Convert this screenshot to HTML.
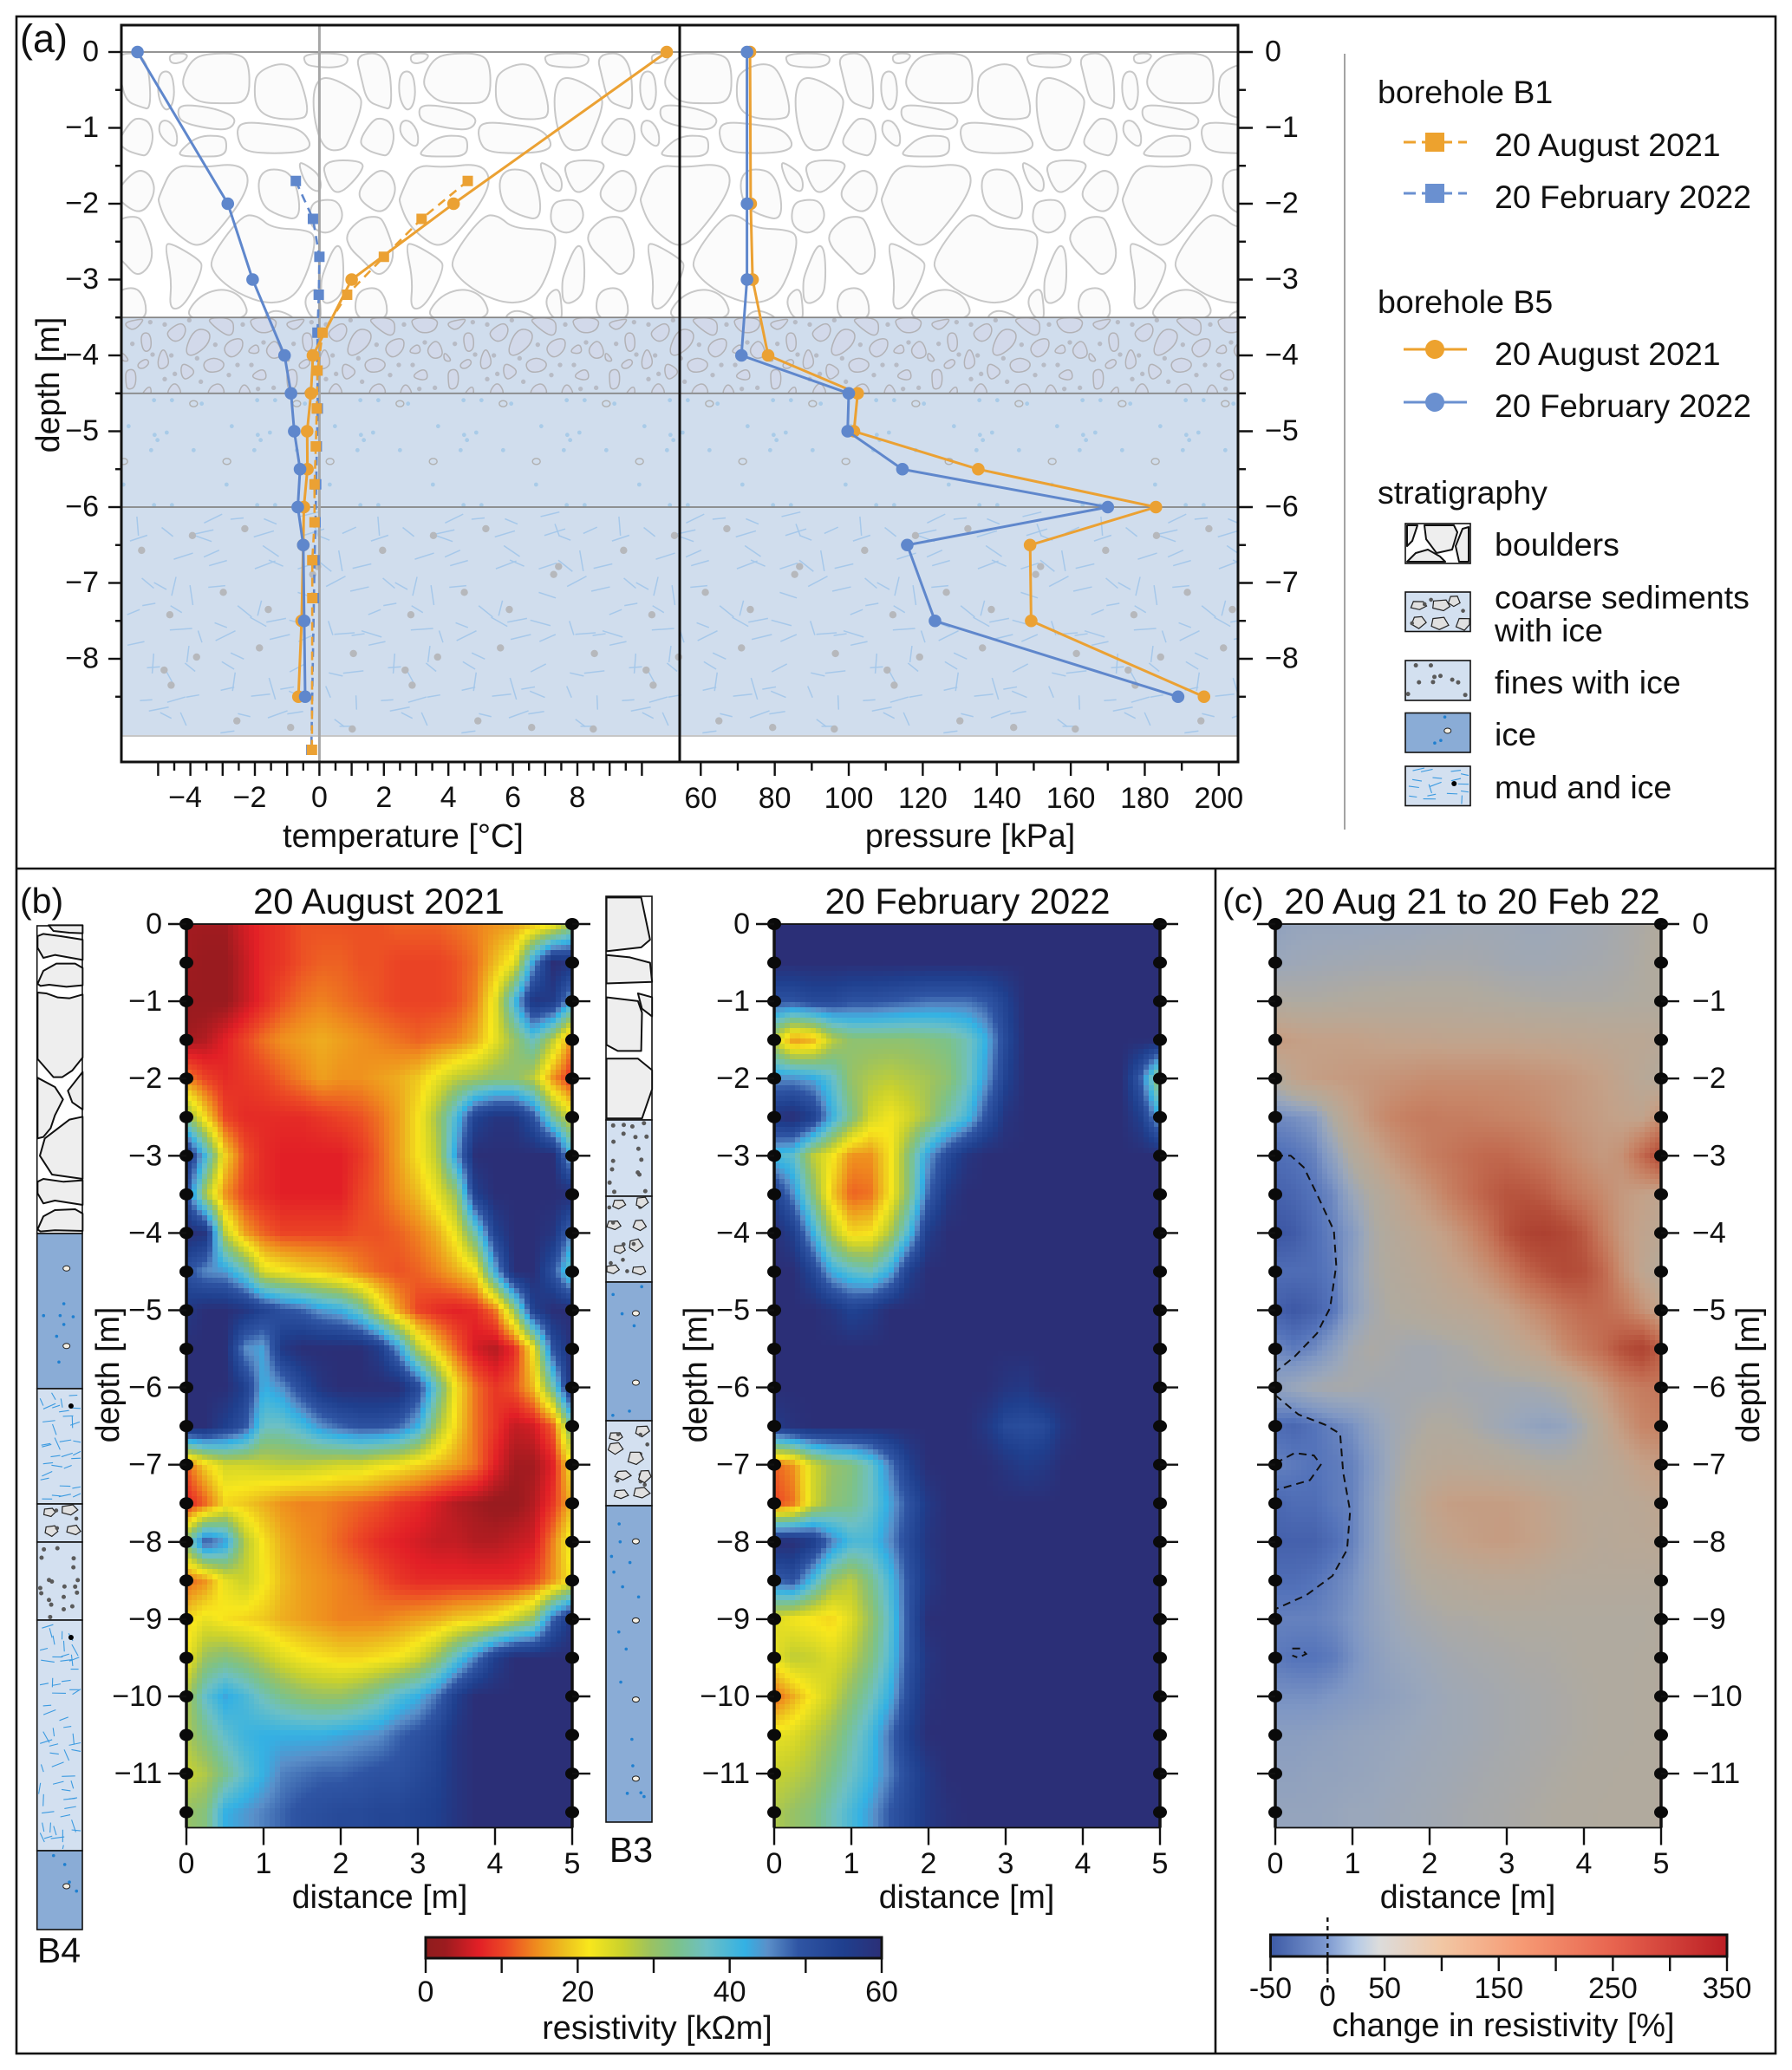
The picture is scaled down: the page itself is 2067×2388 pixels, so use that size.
<!DOCTYPE html>
<html lang="en">
<head>
<meta charset="utf-8">
<title>Borehole temperature, pressure and resistivity</title>
<style>
html,body{margin:0;padding:0;background:#fff;}
svg{display:block;}
text{font-family:"Liberation Sans",Arial,sans-serif;fill:#111;}
.b path{fill:#fbfbfb;stroke:#c8c8c8;stroke-width:2;stroke-linejoin:round;vector-effect:non-scaling-stroke;}
.c path{fill:#d2d9ea;stroke:#b2b2b6;stroke-width:1.5;stroke-linejoin:round;vector-effect:non-scaling-stroke;}
.k polygon{fill:#eeeeee;stroke:#111;stroke-width:2;stroke-linejoin:round;vector-effect:non-scaling-stroke;}
</style>
</head>
<body>
<svg id="fig" xmlns="http://www.w3.org/2000/svg" width="2067" height="2388" viewBox="0 0 2067 2388">
<defs>
<clipPath id="clip-boulder"><rect x="141" y="60" width="1286" height="306"/></clipPath>
<clipPath id="clip-coarse"><rect x="141" y="366" width="1286" height="88"/></clipPath>
<clipPath id="clip-lower"><rect x="141" y="454" width="1286" height="395"/></clipPath>
<g id="boulder-tile" class="b" transform="translate(140,60) scale(.3333)"></g>
<g id="coarse-tile" class="c" transform="translate(140,360) scale(.3333)">
<circle cx="100" cy="35" r="8" fill="#b7bbc5"/><circle cx="150" cy="43" r="8" fill="#b7bbc5"/>
<circle cx="235" cy="28" r="8" fill="#b7bbc5"/><circle cx="420" cy="43" r="8" fill="#b7bbc5"/>
<circle cx="38" cy="110" r="8" fill="#b7bbc5"/><circle cx="325" cy="113" r="8" fill="#b7bbc5"/>
<circle cx="108" cy="147" r="8" fill="#b7bbc5"/><circle cx="173" cy="150" r="8" fill="#b7bbc5"/>
<circle cx="262" cy="160" r="8" fill="#b7bbc5"/><circle cx="402" cy="183" r="8" fill="#b7bbc5"/>
<circle cx="450" cy="183" r="8" fill="#b7bbc5"/><circle cx="185" cy="214" r="8" fill="#b7bbc5"/>
<circle cx="372" cy="218" r="8" fill="#b7bbc5"/><circle cx="150" cy="232" r="8" fill="#b7bbc5"/>
<circle cx="275" cy="241" r="8" fill="#b7bbc5"/><circle cx="473" cy="266" r="8" fill="#b7bbc5"/>
<circle cx="527" cy="262" r="8" fill="#b7bbc5"/><circle cx="492" cy="105" r="8" fill="#b7bbc5"/>
</g>
</defs>

<rect x="0" y="0" width="2067" height="2388" fill="#fff"/>

<g id="strat">
<rect x="141" y="60" width="1286" height="306" fill="#fff"/>
<g clip-path="url(#clip-boulder)">
<use href="#boulder-tile"/><use href="#boulder-tile" x="278"/><use href="#boulder-tile" x="556"/><use href="#boulder-tile" x="834"/><use href="#boulder-tile" x="1112"/>
</g>
<rect x="141" y="366" width="1286" height="483" fill="#d0dded"/>
<g clip-path="url(#clip-coarse)">
<use href="#coarse-tile"/><use href="#coarse-tile" x="186"/><use href="#coarse-tile" x="372"/><use href="#coarse-tile" x="558"/><use href="#coarse-tile" x="744"/><use href="#coarse-tile" x="930"/><use href="#coarse-tile" x="1116"/>
</g>
<g clip-path="url(#clip-lower)" id="lower-texture"></g>
</g>

<g id="frames" fill="none" stroke="#111">
<rect x="19" y="19" width="2029" height="2350" stroke-width="2.6"/>
<line x1="19" y1="1002" x2="2048" y2="1002" stroke-width="2.6"/>
<line x1="1402" y1="1002" x2="1402" y2="2369" stroke-width="2.6"/>
</g>

<g id="a-lines"></g>
<g id="a-series"></g>
<g id="a-axes"></g>

<text x="23" y="60" font-size="45">(a)</text>
<text x="23" y="1053" font-size="41">(b)</text>
<text x="1410" y="1053" font-size="41">(c)</text>

<g id="legend">
<line x1="1551" y1="62" x2="1551" y2="957" stroke="#8c8c8c" stroke-width="1.6"/>
<text x="1589" y="119" font-size="37.5">borehole B1</text>
<text x="1724" y="180" font-size="37.5">20 August 2021</text>
<text x="1724" y="240" font-size="37.5">20 February 2022</text>
<text x="1589" y="361" font-size="37.5">borehole B5</text>
<text x="1724" y="421" font-size="37.5">20 August 2021</text>
<text x="1724" y="481" font-size="37.5">20 February 2022</text>
<text x="1589" y="581" font-size="37.5">stratigraphy</text>
<text x="1724" y="641" font-size="37.5">boulders</text>
<text x="1724" y="702" font-size="37.5">coarse sediments</text>
<text x="1724" y="740" font-size="37.5">with ice</text>
<text x="1724" y="800" font-size="37.5">fines with ice</text>
<text x="1724" y="860" font-size="37.5">ice</text>
<text x="1724" y="921" font-size="37.5">mud and ice</text>
<g fill="none">
<line x1="1619" y1="164" x2="1692" y2="164" stroke="#eda22e" stroke-width="3" stroke-dasharray="14 7"/>
<rect x="1644" y="153" width="22" height="22" fill="#eda22e"/>
<line x1="1619" y1="223" x2="1692" y2="223" stroke="#6a90d0" stroke-width="3" stroke-dasharray="14 7"/>
<rect x="1644" y="212" width="22" height="22" fill="#6a90d0"/>
<line x1="1619" y1="403" x2="1692" y2="403" stroke="#eda22e" stroke-width="3"/>
<circle cx="1655" cy="403" r="11" fill="#eda22e"/>
<line x1="1619" y1="464" x2="1692" y2="464" stroke="#6a90d0" stroke-width="3"/>
<circle cx="1655" cy="464" r="11" fill="#6a90d0"/>
</g>
<g id="legend-swatches"></g>
</g>

<g id="heat-aug"></g>
<g id="heat-feb"></g>
<g id="heat-chg"></g>
<g id="contours" fill="none" stroke="#111" stroke-width="2" stroke-dasharray="9 6"></g>
<g id="b-axes"></g>

<text x="437" y="1054" font-size="41.7" text-anchor="middle">20 August 2021</text>
<text x="1116" y="1054" font-size="41.7" text-anchor="middle">20 February 2022</text>
<text x="1698" y="1054" font-size="41.7" text-anchor="middle">20 Aug 21 to 20 Feb 22</text>

<g id="logs"></g>
<text x="68" y="2264" font-size="41" text-anchor="middle">B4</text>
<text x="728" y="2148" font-size="41" text-anchor="middle">B3</text>

<defs id="cb-defs"></defs>
<g id="cbars"></g>
</svg>

<script>
// ---------- panel (a) data ----------
const b5Depth = [0,-2,-3,-4,-4.5,-5,-5.5,-6,-6.5,-7.5,-8.5];
const b5TempAug = [10.77,4.16,1.0,-0.2,-0.26,-0.38,-0.37,-0.48,-0.5,-0.55,-0.65];
const b5TempFeb = [-5.64,-2.84,-2.07,-1.08,-0.88,-0.78,-0.6,-0.67,-0.5,-0.47,-0.44];
const b5PressAug = [73.3,73.5,74,78.2,102.4,101.4,135,183,149,149.3,196];
const b5PressFeb = [72.5,72.5,72.5,71,100,99.7,114.5,170,115.8,123.3,189];
const b1Depth = [-1.7,-2.2,-2.7,-3.2,-3.7,-4.2,-4.7,-5.2,-5.7,-6.2,-6.7,-7.2,-9.2];
const b1TempAug = [4.6,3.17,2.0,0.86,0.1,-0.06,-0.08,-0.11,-0.15,-0.15,-0.22,-0.22,-0.23];
const b1TempFeb = [-0.73,-0.2,0,-0.02,-0.06,-0.06,-0.05,-0.08,-0.1,-0.12,-0.15,-0.17,-0.25];
const depthTicksA = [0,-1,-2,-3,-4,-5,-6,-7,-8];
const depthLabelsA = ["0","−1","−2","−3","−4","−5","−6","−7","−8"];
const tempTicks = [-4,-2,0,2,4,6,8];
const tempLabels = ["−4","−2","0","2","4","6","8"];
const pressTicks = [60,80,100,120,140,160,180,200];
const layerBounds = [0,-3.5,-4.5,-6];

// ---------- panels (b),(c) data: rows depth 0..-11.5 step 0.5, columns 0..5 m step 0.25 ----------
const depthTicksB = [0,-1,-2,-3,-4,-5,-6,-7,-8,-9,-10,-11];
const depthLabelsB = ["0","−1","−2","−3","−4","−5","−6","−7","−8","−9","−10","−11"];
const distTicks = [0,1,2,3,4,5];
const resAug = [
[3,3,3,6,8,9,11,11,11,11,11,12,12,12,13,14,15,16,18,21,30],
[3,2,2,5,8,9,11,12,12,11,11,10,10,10,11,13,18,23,44,60,58],
[2,2,2,5,8,11,13,14,13,12,11,10,10,10,11,14,23,40,58,56,42],
[3,4,7,10,13,15,16,17,16,15,14,13,12,13,14,17,23,30,37,27,14],
[14,10,8,9,10,12,14,16,15,15,16,17,19,23,27,29,31,31,27,15,8],
[32,20,10,8,8,8,8,9,10,11,13,16,21,29,40,54,58,58,50,34,24],
[58,40,20,11,8,7,7,7,7,9,12,16,21,27,44,60,60,60,60,60,40],
[50,28,15,10,8,7,7,7,7,10,12,15,18,23,30,55,60,60,60,60,60],
[60,58,27,16,12,10,10,10,10,11,11,12,14,17,23,36,54,60,60,58,45],
[50,45,44,37,24,22,20,19,17,14,12,11,12,14,17,21,42,60,60,50,35],
[57,60,60,58,54,50,48,44,42,36,25,16,10,8,7,8,13,30,55,60,60],
[60,60,60,45,43,57,60,60,60,60,56,44,28,19,12,6,4,8,22,50,60],
[60,60,60,55,42,45,52,58,60,60,60,60,52,36,21,13,9,11,18,35,60],
[60,60,55,50,37,37,40,45,48,50,50,48,42,29,20,13,9,5,6,12,35],
[12,20,25,25,26,27,27,26,25,25,23,22,20,18,16,13,7,3,3,7,22],
[7,12,20,19,17,15,14,14,13,12,11,9,8,6,4,3,2,2,4,9,18],
[33,50,44,28,21,17,15,14,12,10,8,7,6,5,5,4,4,5,6,14,24],
[12,15,23,26,22,18,16,15,14,13,11,9,8,8,8,8,8,8,10,15,22],
[20,23,21,20,19,17,16,15,14,14,14,15,16,17,19,20,22,26,31,48,58],
[22,30,32,30,27,24,22,21,20,20,21,22,25,30,38,46,55,60,60,60,60],
[28,38,43,40,36,33,31,30,30,32,35,39,42,47,55,60,60,60,60,60,60],
[28,33,38,41,42,42,42,42,43,44,45,48,50,53,58,60,60,60,60,60,60],
[26,28,33,38,42,46,47,48,48,49,50,50,52,54,58,60,60,60,60,60,60],
[30,32,42,44,46,48,50,51,52,52,53,53,54,55,58,60,60,60,60,60,60]
];
const resFeb = [
[60,60,60,60,60,60,60,60,60,60,60,60,60,60,60,60,60,60,60,60,60],
[60,60,60,60,60,60,60,60,60,60,60,60,60,60,60,60,60,60,60,60,60],
[50,50,52,52,50,50,49,48,47,47,47,49,54,60,60,60,60,60,60,60,60],
[26,15,17,27,31,31,31,31,32,33,36,42,52,60,60,60,60,60,60,60,60],
[45,45,43,38,30,28,27,28,29,31,36,44,54,60,60,60,60,60,60,48,28],
[58,60,55,42,33,25,22,25,29,35,40,50,58,60,60,60,60,60,60,55,42],
[40,38,27,22,15,15,21,32,44,52,58,60,60,60,60,60,60,60,60,60,60],
[55,45,32,19,12,13,21,32,48,57,60,60,60,60,60,60,60,60,60,60,60],
[60,55,42,28,20,21,28,40,56,60,60,60,60,60,60,60,60,60,60,60,60],
[60,60,53,42,38,36,42,55,60,60,60,60,60,60,60,60,60,60,60,60,60],
[60,60,60,58,54,56,60,60,60,60,60,60,60,60,60,60,60,60,60,60,60],
[60,60,60,60,60,60,60,60,60,60,60,60,60,60,60,60,60,60,60,60,60],
[60,60,60,60,60,60,60,60,60,60,60,60,58,57,60,60,60,60,60,60,60],
[56,59,60,60,60,60,60,60,60,60,60,57,52,51,52,58,60,60,60,60,60],
[12,15,25,30,32,37,46,55,60,60,60,60,58,56,57,60,60,60,60,60,60],
[10,13,25,31,33,37,43,50,57,60,60,60,60,60,60,60,60,60,60,60,60],
[60,60,56,46,40,40,45,52,58,60,60,60,60,60,60,60,60,60,60,60,60],
[48,50,40,30,27,33,40,50,57,60,60,60,60,60,60,60,60,60,60,60,60],
[24,22,21,20,24,30,38,50,60,60,60,60,60,60,60,60,60,60,60,60,60],
[23,27,26,24,27,32,39,50,58,60,60,60,60,60,60,60,60,60,60,60,60],
[12,17,22,26,31,36,42,52,59,60,60,60,60,60,60,60,60,60,60,60,60],
[23,24,27,30,35,40,47,55,60,60,60,60,60,60,60,60,60,60,60,60,60],
[26,27,29,33,37,41,46,52,57,60,60,60,60,60,60,60,60,60,60,60,60],
[28,30,32,36,40,44,49,53,57,59,60,60,60,60,60,60,60,60,60,60,60]
];
const chgPct = [
[15,20,22,22,22,23,25,25,27,28,30,30,30,28,28,30,32,35,40,45,55],
[25,28,30,32,33,35,35,36,38,38,38,36,33,32,32,34,36,38,42,48,55],
[50,48,48,50,52,54,55,56,56,56,55,52,50,48,46,46,46,46,48,50,52],
[115,105,100,100,100,95,92,90,90,88,88,88,88,85,85,82,80,78,75,75,70],
[55,90,105,110,115,120,125,130,135,135,135,135,135,130,125,120,110,100,85,70,55],
[-10,-5,5,50,90,125,150,165,170,165,165,160,155,150,140,125,115,105,95,90,130],
[-30,-25,-15,15,55,85,115,140,165,180,195,205,205,190,175,150,130,115,130,200,270],
[-40,-35,-25,-10,25,50,75,100,125,160,190,220,240,240,225,190,165,140,115,100,85],
[-50,-45,-30,-15,5,40,60,75,90,110,140,180,240,280,290,270,230,165,115,90,75],
[-30,-30,-30,-20,10,40,55,65,75,90,105,130,165,210,240,260,250,205,130,85,60],
[-40,-48,-40,-25,10,35,50,55,62,70,75,85,100,125,150,180,200,200,175,130,90],
[-10,-20,-10,10,35,45,40,35,35,40,45,55,70,85,100,140,170,200,250,280,220],
[15,25,35,40,40,35,35,35,35,38,35,35,35,35,40,50,75,110,150,170,180],
[-30,-35,-25,-15,-5,15,30,40,50,50,45,35,28,20,15,20,40,75,115,150,160],
[-15,-20,-25,-20,-15,5,30,50,65,70,68,65,60,55,50,50,55,65,80,100,110],
[-35,-30,-30,-20,-15,10,35,60,90,105,108,108,108,100,90,80,70,70,70,75,85],
[-40,-40,-40,-30,-15,10,35,55,80,92,102,108,110,102,92,80,72,65,70,70,75],
[-30,-30,-25,-15,-5,15,30,45,55,60,65,70,70,70,65,60,60,60,60,60,60],
[-15,-15,-15,-10,0,15,25,35,40,45,45,48,50,50,50,50,50,50,50,50,55],
[-20,-25,-25,-20,-5,10,20,25,30,35,38,40,42,45,45,48,50,50,50,52,55],
[-5,-5,-5,0,5,10,15,20,25,30,32,35,38,40,42,45,48,50,50,52,55],
[10,10,12,15,18,20,22,25,28,30,32,35,38,40,42,45,48,50,50,52,55],
[15,15,18,18,20,22,25,28,30,32,35,38,40,42,45,48,50,50,52,52,55],
[20,20,20,22,25,25,28,30,32,35,38,40,42,45,48,50,50,52,52,52,55]
];
const contourA = [[0,-3],[.2,-3],[.37,-3.15],[.54,-3.5],[.76,-3.97],[.79,-4.42],[.71,-4.97],[.54,-5.3],[.25,-5.6],[0,-5.8]];
const contourB = [[0,-6.1],[.3,-6.35],[.64,-6.48],[.84,-6.6],[.88,-7.1],[.97,-7.6],[.93,-8.1],[.74,-8.44],[.4,-8.69],[0,-8.87]];
const contourC = [[0,-6.98],[.25,-6.85],[.5,-6.88],[.59,-7],[.45,-7.2],[0,-7.33]];
const contourD = [[.22,-9.38],[.33,-9.38],[.4,-9.45],[.3,-9.5],[.22,-9.47]];
const cbResTicks = [0,10,20,30,40,50,60];
const cbResLabels = ["0","","20","","40","","60"];
const cbChgTicks = [-50,0,50,100,150,200,250,300,350];
const cbChgLabels = ["-50","","50","","150","","250","","350"];
const resStopV = [0,2.6,7,10.6,14.6,18.5,21.5,26,29.7,33,37,42,45,49,55,60];
const resStopC = ["#8f1d1d","#9c1b1f","#e21f26","#ec4a25","#ef8c1e","#edc21f","#f8e71c","#c9d12d","#9ac262","#7cc28a","#6cc0c5","#33b1e4","#5a8fc9","#2f55a4","#1f3f8e","#2b2f77"];
const chgBarV = [-50,0,25,45,100,170,250,350];
const chgBarC = ["#3d5aa6","#7f9bd1","#b6cbe6","#dcdcdc","#f2c7a4","#f69a74","#e8644f","#bb1e24"];
const chgMapV = [-50,-25,0,25,50,75,100,150,200,250,300,350];
const chgMapC = ["#3b55a3","#5473ba","#7f97c4","#9aa7bb","#b0aa9f","#baa794","#c4a188","#c78668","#c26b50","#b54f3a","#ab3d2e","#b01e24"];

// ---------- scales ----------
const NS = "http://www.w3.org/2000/svg";
function depthY(d){return 60-87.5*d;}
function tempX(t){return 368.4+37.2*t;}
function pressX(p){return 808.3+4.268*(p-60);}
const PANEL_W = 445;
function distX(x0,m){return x0+PANEL_W/5*m;}
function resY(d){return 1066-89.1*d;}
function cbResX(v){return 491+526/60*v;}
function cbChgX(v){return 1465.5+526.5/400*(v+50);}
function mk(tag,attrs,parent){
  const e=document.createElementNS(NS,tag);
  for(const k in attrs){e.setAttribute(k,attrs[k]);}
  parent.appendChild(e);
  return e;
}
function hex(c){return [parseInt(c.slice(1,3),16),parseInt(c.slice(3,5),16),parseInt(c.slice(5,7),16)];}
function cmap(v,vs,cs){
  if(v<=vs[0])return cs[0];
  for(let i=1;i<vs.length;i++){
    if(v<=vs[i]){
      const t=(v-vs[i-1])/(vs[i]-vs[i-1]);
      const a=hex(cs[i-1]),b=hex(cs[i]);
      return "rgb("+Math.round(a[0]+(b[0]-a[0])*t)+","+Math.round(a[1]+(b[1]-a[1])*t)+","+Math.round(a[2]+(b[2]-a[2])*t)+")";
    }
  }
  return cs[cs.length-1];
}
function sample(grid,m,d){
  const r=Math.min(grid.length-1,Math.max(0,-d/0.5)),c=Math.min(20,Math.max(0,m/0.25));
  const r0=Math.floor(r),c0=Math.floor(c),r1=Math.min(grid.length-1,r0+1),c1=Math.min(20,c0+1);
  const fr=r-r0,fc=c-c0;
  return (grid[r0][c0]*(1-fc)+grid[r0][c1]*fc)*(1-fr)+(grid[r1][c0]*(1-fc)+grid[r1][c1]*fc)*fr;
}
let seed=12345;
function rnd(){
  seed=(seed+0x6D2B79F5)|0;
  let t=Math.imul(seed^(seed>>>15),1|seed);
  t=(t+Math.imul(t^(t>>>7),61|t))^t;
  return ((t^(t>>>14))>>>0)/4294967296;
}
function smoothPath(str){
  const p=str.trim().split(/\s+/).map(function(s){return s.split(",").map(Number);});
  const n=p.length;
  function mid(a,b){return ((a[0]+b[0])/2).toFixed(1)+" "+((a[1]+b[1])/2).toFixed(1);}
  let d="M"+mid(p[n-1],p[0]);
  for(let i=0;i<n;i++){
    d+="Q"+p[i][0]+" "+p[i][1]+" "+mid(p[i],p[(i+1)%n]);
  }
  return d+"Z";
}

// ---------- boulder and coarse-sediment texture outlines ----------
const boulderOutlines = [
"-24,5 90,5 105,200 66,190 16,170 -4,90","130,70 172,65 185,135 175,190 150,205 125,150","165,5 235,5 215,35 170,42",
"240,30 290,5 420,5 445,60 440,175 350,178 270,175 225,140 208,100","470,70 550,35 610,60 655,220 600,235 510,228 465,190 460,120",
"630,5 780,5 785,40 740,55 660,50 635,40","665,115 710,78 830,145 830,200 790,300 770,340 700,340 665,230",
"200,185 260,185 340,200 400,230 375,270 300,265 215,245 195,220","-14,310 36,235 66,228 100,245 112,300 90,360 60,355 16,340",
"132,240 165,235 195,280 190,338 130,290","400,260 430,242 520,250 620,265 660,320 630,345 530,352 430,345 405,310",
"205,340 265,290 350,290 365,310 360,360 280,362 200,360","130,500 180,390 280,400 400,385 445,430 420,510 320,640 270,672 230,660 160,600 128,520",
"470,440 510,400 600,420 625,585 540,565 485,530","610,380 640,390 690,430 690,490 640,465","695,375 840,375 830,420 750,500 710,450",
"-14,480 26,430 66,405 105,430 118,490 70,565 -4,520","655,525 700,510 750,515 770,570 740,615 700,630 650,600",
"-59,630 -4,575 50,568 75,585 118,710 60,785 6,725 -44,680","150,670 170,660 265,715 285,745 220,880 165,895 175,790",
"305,715 415,565 470,565 520,610 640,615 675,640 650,750 600,850 510,875 400,835 320,770","700,760 740,665 765,680 770,780 760,850 695,880 690,800",
"215,930 260,850 345,815 420,845 445,930","-24,830 50,810 85,860 85,930 -24,930","480,930 530,885 620,930","630,850 680,810 690,880 690,930 650,915"
];
const coarseOutlines = [
"15,35 60,25 80,25 45,65 15,50","65,75 100,70 105,130 75,140","160,65 205,35 225,55 215,90 185,105 160,85","220,140 240,80 270,55 310,70 300,115 245,155",
"295,20 385,20 390,70 370,85 320,50","355,120 380,95 420,90 420,130 385,160 360,145","430,140 470,105 480,145","445,20 540,20 530,65 480,75 450,50",
"125,165 145,120 165,165 160,190 130,200","55,180 85,160 98,175 80,195 60,195","280,175 320,155 360,175 345,205 295,210","205,195 215,175 260,205 225,235 210,225",
"15,200 50,198 50,260 20,270 15,240","150,290 185,235 215,290","295,290 310,255 345,245 362,290","400,290 425,240 455,290","440,225 495,190 505,240",
"65,290 100,250 105,290","0,135 30,170 0,170","495,130 535,90 560,150 520,165"
];
{
  const bt=document.getElementById("boulder-tile");
  boulderOutlines.forEach(function(s){
    const p=mk("path",{d:smoothPath(s)},bt);
    
    
  });
  const ct=document.getElementById("coarse-tile");
  coarseOutlines.forEach(function(s){
    const p=mk("path",{d:smoothPath(s)},ct);
    
    
  });
}

// ---------- panel (a) textures ----------
const lower=document.getElementById("lower-texture");
for(let k=0;k<11;k++){
  const ox=141+k*119;
  [[113,305],[175,305],[25,395],[115,425],[157,417],[125,443],[103,478],[250,478],[7,597],[278,317],[113,668],[175,668]].forEach(function(p){
    const e=mk("circle",{cx:ox-1+p[0]/3,cy:360+p[1]/3,r:2.4,fill:"#a9cbe8"},lower);
    
    
  });
  [[250,317],[8,517]].forEach(function(p){
    const e=mk("ellipse",{cx:ox-1+p[0]/3,cy:360+p[1]/3,rx:4.5,ry:3.5,fill:"none",stroke:"#b0b0b0","stroke-width":1.4},lower);
    
    
  });
}
for(let k=0;k<5;k++){
  const ox=141+k*278;
  seed=4242;
  for(let gx=0;gx<9;gx++){
    for(let gy=0;gy<9;gy++){
      const x=ox+(gx+rnd())*278/9,y=588+(gy+rnd())*258/9;
      const pick=rnd();
      const ang=(pick<0.55?(-28+rnd()*28):(pick<0.8?(10+rnd()*30):(60+rnd()*50)))*Math.PI/180,len=14+rnd()*12;
      const e=mk("line",{x1:x,y1:y,x2:x+len*Math.cos(ang),y2:y+len*Math.sin(ang),stroke:"#a6c8ea","stroke-width":1.5},lower);
      
      
    }
  }
  for(let gx=0;gx<4;gx++){
    for(let gy=0;gy<4;gy++){
      const e=mk("circle",{cx:ox+(gx+rnd())*278/4,cy:592+(gy+rnd())*252/4,r:4.2,fill:"#b6b8bc"},lower);
      
      
    }
  }
}

// ---------- panel (a) guides ----------
const aLines=document.getElementById("a-lines");
layerBounds.forEach(function(d){
  const e=mk("line",{x1:140,x2:1428,y1:depthY(d),y2:depthY(d),stroke:"#858585","stroke-width":1.8},aLines);
  
  
});
{
  const e=mk("line",{x1:140,x2:1428,y1:849,y2:849,stroke:"#c6c6c6","stroke-width":2},aLines);
  
  
  const z=mk("line",{x1:tempX(0),x2:tempX(0),y1:29,y2:879,stroke:"#a6a6a6","stroke-width":3},aLines);
  
  
}

// ---------- panel (a) series ----------
const ORANGE="#eba133",BLUE="#5f87cc";
const aSeries=document.getElementById("a-series");
function polyPts(xs,ds,fx){return xs.map(function(v,i){return fx(v).toFixed(1)+","+depthY(ds[i]).toFixed(1);}).join(" ");}
function drawSeries(name,xs,ds,fx,color,square){
  const l=mk("polyline",{points:polyPts(xs,ds,fx),fill:"none",stroke:color,"stroke-width":square?2.6:3,"stroke-dasharray":square?"10 7":"none"},aSeries);
  
  
  xs.forEach(function(v,i){
    let m;
    if(square){
      m=mk("rect",{x:fx(v)-6,y:depthY(ds[i])-6,width:12,height:12,fill:color},aSeries);
    }else{
      m=mk("circle",{cx:fx(v),cy:depthY(ds[i]),r:7.3,fill:color},aSeries);
    }
    
    
  });
}
drawSeries("b1-temp-feb",b1TempFeb,b1Depth,tempX,BLUE,true);
drawSeries("b1-temp-aug",b1TempAug,b1Depth,tempX,ORANGE,true);
drawSeries("b5-temp-aug",b5TempAug,b5Depth,tempX,ORANGE,false);
drawSeries("b5-temp-feb",b5TempFeb,b5Depth,tempX,BLUE,false);
drawSeries("b5-press-aug",b5PressAug,b5Depth,pressX,ORANGE,false);
drawSeries("b5-press-feb",b5PressFeb,b5Depth,pressX,BLUE,false);

// ---------- panel (a) axes ----------
const aAxes=document.getElementById("a-axes");
{
  const f=mk("rect",{x:140,y:29,width:1288,height:850,fill:"none",stroke:"#111","stroke-width":3},aAxes);
  
  
  const s=mk("line",{x1:784,x2:784,y1:29,y2:879,stroke:"#111","stroke-width":3},aAxes);
  
  
}
function tickLine(parent,x1,y1,x2,y2,w){
  const t=mk("line",{x1:x1,y1:y1,x2:x2,y2:y2,stroke:"#111","stroke-width":w||2.4},parent);
  
  
}
function textAt(parent,str,x,y,size,anchor){
  const t=mk("text",{x:x,y:y,"font-size":size,"text-anchor":anchor||"start"},parent);
  t.textContent=str;
  return t;
}
for(let d=0;d>=-8.5;d-=0.5){
  const major=Number.isInteger(d);
  tickLine(aAxes,140,depthY(d),major?125:133,depthY(d));
  tickLine(aAxes,1428,depthY(d),major?1445:1437,depthY(d));
}
depthTicksA.forEach(function(d,i){
  const a=textAt(aAxes,depthLabelsA[i],114,depthY(d)+10.5,34,"end");
  
  
  const b=textAt(aAxes,depthLabelsA[i],1459,depthY(d)+10.5,34,"start");
  
  
});
for(let t=-5;t<=10;t+=0.5){
  tickLine(aAxes,tempX(t),879,tempX(t),Number.isInteger(t)?895:889);
}
tempTicks.forEach(function(t,i){
  const a=textAt(aAxes,tempLabels[i],tempX(t)-(t<0?6:0),931,34,"middle");
  
  
});
for(let p=60;p<=200;p+=10){
  tickLine(aAxes,pressX(p),879,pressX(p),p%20===0?895:889);
}
pressTicks.forEach(function(p){
  const a=textAt(aAxes,String(p),pressX(p),932,34,"middle");
  
  
});
{
  const a=textAt(aAxes,"temperature [°C]",465,977,37.8,"middle");
  
  
  const b=textAt(aAxes,"pressure [kPa]",1119,977,37.6,"middle");
  
  
  const c=textAt(aAxes,"depth [m]",68,444,37.6,"middle");
  c.setAttribute('transform','rotate(-90 68 444)');
  
  
}

// ---------- heatmaps ----------
const CELL=6;
function drawHeat(id,x0,grid,vs,cs,name){
  const g=document.getElementById(id);
  const h=resY(-11.7)-resY(0);
  for(let py=0;py<h;py+=CELL){
    for(let px=0;px<PANEL_W;px+=CELL){
      const m=(px+CELL/2)/(PANEL_W/5),d=-(py+CELL/2)/89.1;
      const c=mk("rect",{x:x0+px,y:resY(0)+py,width:Math.min(CELL,PANEL_W-px),height:Math.min(CELL,h-py),fill:cmap(sample(grid,m,d),vs,cs),"shape-rendering":"crispEdges"},g);
      
      
    }
  }
}
const X1=215,X2=893,X3=1471;
drawHeat("heat-aug",X1,resAug,resStopV,resStopC,"heat-cell-aug");
drawHeat("heat-feb",X2,resFeb,resStopV,resStopC,"heat-cell-feb");
drawHeat("heat-chg",X3,chgPct,chgMapV,chgMapC,"heat-cell-change");

// ---------- contours ----------
const cg=document.getElementById("contours");
[contourA,contourB,contourC,contourD].forEach(function(pts){
  const c=mk("polyline",{points:pts.map(function(p){return distX(X3,p[0]).toFixed(1)+","+resY(p[1]).toFixed(1);}).join(" ")},cg);
  
  
});

// ---------- panel b/c axes ----------
const bAxes=document.getElementById("b-axes");
[X1,X2,X3].forEach(function(x0,pi){
  const r=mk("rect",{x:x0,y:resY(0),width:PANEL_W,height:resY(-11.7)-resY(0),fill:"none",stroke:"#111","stroke-width":1.8},bAxes);
  
  
  [x0,x0+PANEL_W].forEach(function(xe){
    const v=mk("line",{x1:xe,x2:xe,y1:resY(0),y2:resY(-11.7),stroke:"#111","stroke-width":3.5},bAxes);
    
    
    for(let d=0;d>=-11.5;d-=0.5){
      const el=mk("ellipse",{cx:xe,cy:resY(d),rx:8,ry:7,fill:"#0a0a0a"},bAxes);
      
      
    }
  });
  depthTicksB.forEach(function(d,i){
    tickLine(bAxes,x0-21,resY(d),x0,resY(d));
    tickLine(bAxes,x0+PANEL_W,resY(d),x0+PANEL_W+21,resY(d));
    let t;
    if(pi<2){
      t=textAt(bAxes,depthLabelsB[i],x0-28,resY(d)+11,34,"end");
    }else{
      t=textAt(bAxes,depthLabelsB[i],x0+PANEL_W+36,resY(d)+11,34,"start");
    }
    
    
  });
  distTicks.forEach(function(m){
    tickLine(bAxes,distX(x0,m),resY(-11.7),distX(x0,m),resY(-11.7)+20);
    const t=textAt(bAxes,String(m),distX(x0,m),2161,34,"middle");
    
    
  });
  const xl=textAt(bAxes,"distance [m]",[438,1115,1693][pi],2201,37.6,"middle");
  
  
  const bx=[137,815,2029][pi];
  const yl=textAt(bAxes,"depth [m]",bx,1586,37.6,"middle");
  yl.setAttribute('transform','rotate(-90 '+bx+' 1586)');
  
  
});

// ---------- borehole logs ----------
const logs=document.getElementById("logs");
function dot(parent,x,y,r,fill){
  const c=mk("circle",{cx:x,cy:y,r:r,fill:fill},parent);
  
  
}
function layer(parent,x0,x1,y0,y1,type,s){
  seed=s;
  const w=x1-x0,h=y1-y0;
  const bg={ice:"#8aacd6",mud:"#d3e0f0",fines:"#d3e0f0",coarse:"#d3e0f0",boulder:"#ffffff"}[type];
  const r=mk("rect",{x:x0,y:y0,width:w,height:h,fill:bg,stroke:"#111","stroke-width":1.6},parent);
  
  
  if(type==="ice"){
    const n=Math.max(3,Math.round(w*h/1300));
    for(let i=0;i<n;i++){dot(parent,x0+4+rnd()*(w-8),y0+4+rnd()*(h-8),1.8,"#1f7fcf");}
    const np=Math.max(1,Math.round(h/100));
    for(let i=0;i<np;i++){
      const p=mk("ellipse",{cx:x0+w*0.65,cy:y0+h*(i+0.45)/np,rx:4,ry:3,fill:"#f4efe4",stroke:"#222","stroke-width":1},parent);
      
      
    }
  }else if(type==="mud"){
    const cols=Math.max(3,Math.round(w/13)),rows=Math.max(3,Math.round(h/13));
    for(let gx=0;gx<cols;gx++){
      for(let gy=0;gy<rows;gy++){
        if(rnd()>0.75){continue;}
        const x=x0+3+(gx+rnd()*0.6)*(w-8)/cols,y=y0+4+(gy+rnd())*(h-8)/rows;
        const a=(rnd()<0.75?(-25+rnd()*35):(60+rnd()*40))*Math.PI/180,len=9+rnd()*7;
        const ex=Math.min(x1-2,x+len*Math.cos(a)),ey=Math.max(y0+2,Math.min(y1-2,y+len*Math.sin(a)));
        const l=mk("line",{x1:x,y1:y,x2:ex,y2:ey,stroke:"#3b9ae0","stroke-width":1.1},parent);
        
        
      }
    }
    dot(parent,x0+w*0.75,y0+Math.min(20,h*0.5),3,"#000");
  }else if(type==="fines"){
    const cols=Math.max(3,Math.round(w/12)),rows=Math.max(3,Math.round(h/12));
    for(let gx=0;gx<cols;gx++){
      for(let gy=0;gy<rows;gy++){
        if(rnd()>0.55){continue;}
        dot(parent,x0+3+(gx+rnd())*(w-6)/cols,y0+3+(gy+rnd())*(h-6)/rows,2.5,"#5a5a5a");
      }
    }
  }else if(type==="coarse"){
    const cols=Math.max(2,Math.round(w/25)),rows=Math.max(2,Math.round(h/24));
    for(let gx=0;gx<cols;gx++){
      for(let gy=0;gy<rows;gy++){
        const cx=x0+(gx+0.25+rnd()*0.5)*w/cols,cy=y0+(gy+0.25+rnd()*0.5)*h/rows,rx=7+rnd()*4,ry=5+rnd()*3;
        const pts=[];
        for(let k=0;k<5;k++){
          const a=k*1.2566+rnd()*0.4;
          pts.push(Math.max(x0+1,Math.min(x1-1,cx+rx*Math.cos(a))).toFixed(1)+","+Math.max(y0+1,Math.min(y1-1,cy+ry*Math.sin(a))).toFixed(1));
        }
        const p=mk("polygon",{points:pts.join(" "),fill:"#e0e0e0",stroke:"#222","stroke-width":1.2},parent);
        
        
        dot(parent,x0+3+rnd()*(w-6),y0+3+rnd()*(h-6),2.3,"#555");
      }
    }
  }
}
function boulderGroup(parent,transform,polys){
  const g=mk("g",{class:"k",transform:transform},parent);
  
  
  polys.forEach(function(p){
    const e=mk("polygon",{points:p},g);
    
    
  });
}
// B4
layer(logs,42.7,95,1068,1423,"boulder",1);
boulderGroup(logs,"translate(30,1060) scale(.3333)",[
"78,22 95,42 150,48 196,50 196,22",
"40,60 60,52 120,60 196,72 196,142 100,125 60,135 40,100",
"40,225 60,180 105,155 170,155 196,170 196,230 140,235 80,228 50,232",
"40,255 70,258 110,272 150,275 196,262 196,480 160,525 125,548 95,548 40,485",
"40,550 100,582 128,625 100,680 85,725 60,755 40,760",
"196,530 145,595 160,635 196,660",
"196,685 150,695 65,760 48,820 90,885 196,900",
"40,910 60,900 130,910 196,905 196,990 100,975 60,985 40,950",
"40,1075 60,1030 100,1008 170,1005 196,1020 196,1080 100,1078 50,1082"]);
layer(logs,42.7,95,1423,1602,"ice",11);
layer(logs,42.7,95,1602,1735,"mud",12);
layer(logs,42.7,95,1735,1779,"coarse",13);
layer(logs,42.7,95,1779,1869,"fines",14);
layer(logs,42.7,95,1869,2135,"mud",15);
layer(logs,42.7,95,2135,2226,"ice",16);
// B3
layer(logs,699,752,1034,1292,"boulder",2);
boulderGroup(logs,"translate(680,1000) scale(.4655,.885)",[
"42,40 128,40 150,95 128,105 42,110",
"42,115 100,118 150,125 155,150 42,152",
"42,170 120,175 130,190 128,240 70,240 42,232",
"120,165 155,170 155,195 130,185",
"42,250 120,250 155,265 155,290 130,328 42,328"]);
layer(logs,699,752,1292,1380,"fines",21);
layer(logs,699,752,1380,1479,"coarse",22);
layer(logs,699,752,1479,1639,"ice",23);
layer(logs,699,752,1639,1737,"coarse",24);
layer(logs,699,752,1737,2102,"ice",25);
// Legend swatches
const sw=document.getElementById("legend-swatches");
layer(sw,1621,1696,604,650,"boulder",3);
boulderGroup(sw,"translate(1621,604)",[
"2,2 14,2 8,20 2,26",
"22,2 56,2 60,10 54,30 36,34 24,18",
"2,44 12,34 26,30 40,38 46,44",
"66,6 73,4 73,44 62,44 58,26"]);
layer(sw,1621,1696,683,728.5,"coarse",31);
layer(sw,1621,1696,762,808,"fines",32);
layer(sw,1621,1696,822.5,868,"ice",33);
layer(sw,1621,1696,884,929.5,"mud",34);

// ---------- colorbars ----------
const defs=document.getElementById("cb-defs");
function grad(id,vs,cs){
  const g=mk("linearGradient",{id:id,x1:0,x2:1,y1:0,y2:0},defs);
  const a=vs[0],b=vs[vs.length-1];
  vs.forEach(function(v,i){mk("stop",{offset:(v-a)/(b-a),"stop-color":cs[i]},g);});
}
grad("cb-res",resStopV,resStopC);
grad("cb-chg",chgBarV,chgBarC);
const cb=document.getElementById("cbars");
{
  const r=mk("rect",{x:491,y:2235,width:526,height:24,fill:"url(#cb-res)",stroke:"#111","stroke-width":3},cb);
  
  
  const r2=mk("rect",{x:1465.5,y:2232,width:526.5,height:25,fill:"url(#cb-chg)",stroke:"#111","stroke-width":3},cb);
  
  
}
cbResTicks.forEach(function(v,i){
  tickLine(cb,cbResX(v),2259,cbResX(v),2276);
  if(cbResLabels[i]){
    const t=textAt(cb,cbResLabels[i],cbResX(v),2309,34,"middle");
    
    
  }
});
cbChgTicks.forEach(function(v,i){
  tickLine(cb,cbChgX(v),2257,cbChgX(v),2274);
  if(cbChgLabels[i]){
    const t=textAt(cb,cbChgLabels[i],cbChgX(v),2305,34,"middle");
    
    
  }
});
{
  const z=mk("line",{x1:cbChgX(0),x2:cbChgX(0),y1:2212,y2:2296,stroke:"#111","stroke-width":2.4,"stroke-dasharray":"5 5"},cb);
  
  
  const t0=textAt(cb,"0",cbChgX(0),2314,34,"middle");
  
  
  const a=textAt(cb,"resistivity [kΩm]",758,2352,37.8,"middle");
  
  
  const b=textAt(cb,"change in resistivity [%]",1734,2349,37.8,"middle");
  
  
}
</script>
</body>
</html>
